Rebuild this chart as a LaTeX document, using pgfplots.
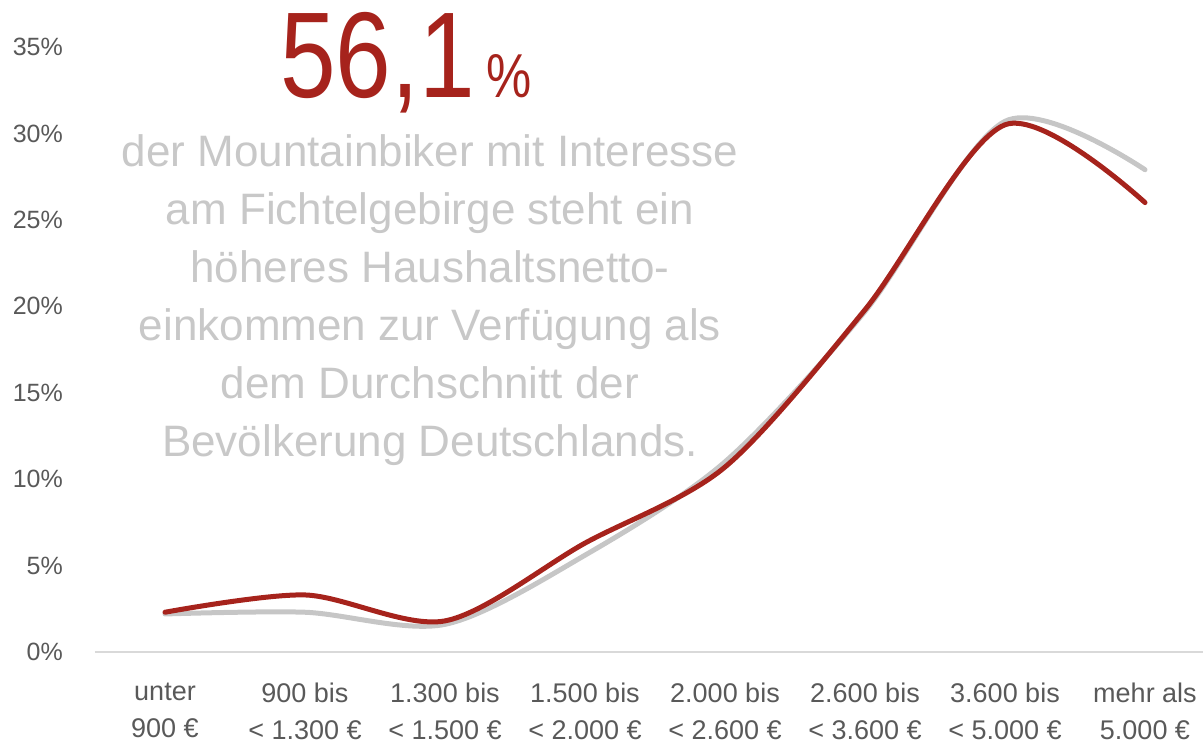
\documentclass[border=0pt]{standalone}
\usepackage{fontspec}
\setmainfont{Liberation Sans}
\newfontfamily\cond[FakeStretch=0.82]{Liberation Sans}
\usepackage{pgfplots}
\pgfplotsset{compat=1.18}
\definecolor{rot}{HTML}{A6231C}
\definecolor{grau}{HTML}{C6C6C6}
\definecolor{txt}{HTML}{595959}
\definecolor{para}{HTML}{C8C8C8}
\definecolor{achse}{HTML}{D9D9D9}
\begin{document}
\begin{tikzpicture}[x=1pt,y=1pt]
\path[use as bounding box] (0,0) rectangle (1203,747);
\begin{axis}[
  at={(95pt,95pt)}, anchor=south west,
  scale only axis, width=1108pt, height=605pt,
  xmin=-0.5, xmax=7.414, ymin=0, ymax=35,
  axis x line*=bottom, axis y line*=left,
  y axis line style={draw=none},
  x axis line style={color=achse, line width=2pt, -},
  major tick length=0pt,
  ytick={0,5,10,15,20,25,30,35},
  yticklabels={0\%,5\%,10\%,15\%,20\%,25\%,30\%,35\%},
  yticklabel style={font=\fontsize{25}{25}\selectfont, color=txt, inner sep=0pt, anchor=east, xshift=-32pt},
  xtick={0,1,2,3,4,5,6,7},
  xticklabels={unter\\900 €, 900 bis\\< 1.300 €, 1.300 bis\\< 1.500 €, 1.500 bis\\< 2.000 €, 2.000 bis\\< 2.600 €, 2.600 bis\\< 3.600 €, 3.600 bis\\< 5.000 €, mehr als\\5.000 €},
  xticklabel style={font=\fontsize{27}{37}\selectfont, color=txt, align=center, inner sep=0pt, anchor=north, yshift=-31pt},
  clip=false,
]
\addplot[grau, line width=5pt, smooth, tension=0.5, line cap=round] coordinates {(0,2.2) (1,2.3) (2,1.6) (3,5.6) (4,11.0) (5,19.7) (6,30.7) (7,27.9)};
\addplot[rot, line width=5pt, smooth, tension=0.5, line cap=round] coordinates {(0,2.3) (1,3.3) (2,1.8) (3,6.3) (4,10.7) (5,19.8) (6,30.5) (7,26.0)};
\end{axis}
\node[anchor=base west, inner sep=0pt, text=rot, font=\cond\fontsize{122}{122}\selectfont] at (280,649) {56,1};
\node[anchor=base west, inner sep=0pt, text=rot, font=\cond\fontsize{62}{62}\selectfont] at (486,649) {\%};
\node[align=center, inner sep=0pt, text=para, font=\fontsize{44}{58}\selectfont] at (430,447) {der Mountainbiker mit Interesse\\am Fichtelgebirge steht ein\\höheres Haushaltsnetto-\\einkommen zur Verfügung als\\dem Durchschnitt der\\Bevölkerung Deutschlands.};
\end{tikzpicture}
\end{document}
